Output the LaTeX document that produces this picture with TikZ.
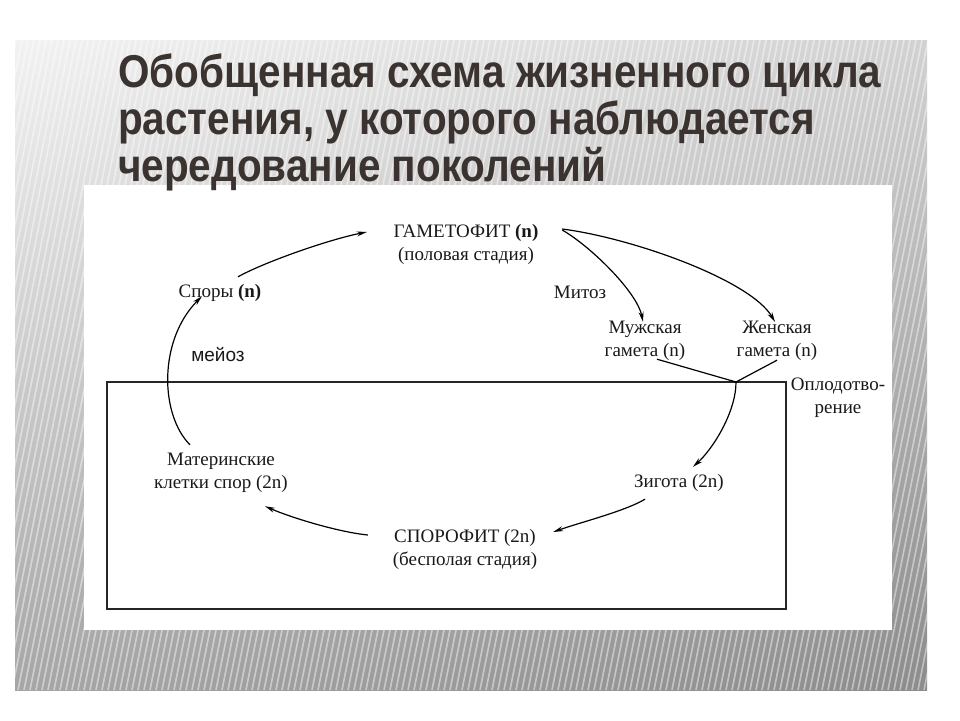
\documentclass[tikz,border=0pt]{standalone}
\usepackage{fontspec}
\setmainfont{Liberation Serif}
\newfontfamily\titlefont[FakeStretch=0.88]{Liberation Sans}
\newfontfamily\labelsans{Liberation Sans}
\usetikzlibrary{arrows.meta,shadings}
\definecolor{titlecol}{HTML}{3B3330}
\tikzset{
  titletext/.style={anchor=base west, inner sep=0pt, text=titlecol,
    font=\titlefont\bfseries\fontsize{46}{50}\selectfont},
  lbl/.style={inner sep=0pt, align=center, text=black!90,
    font=\fontsize{19}{23}\selectfont},
  arr/.style={-{Stealth[length=10pt,width=5pt]}, line width=1.2pt},
  plain/.style={line width=1.2pt},
}
\begin{document}
\begin{tikzpicture}[x=1pt,y=-1pt]
\useasboundingbox (0,0) rectangle (960,720);
\fill[white] (0,0) rectangle (960,720);
% striped slide background
\shade[upper left=black!5, upper right=black!18, lower left=black!35, lower right=black!45]
  (15,40) rectangle (927,690);
\begin{scope}
  \clip (15,40) rectangle (927,690);
  \foreach \i in {-150,-144,...,940}
    \draw[white, opacity=0.45, line width=1.6pt] (\i,690) -- ++(130,-650);
\end{scope}
% white panel
\fill[white] (84,185) rectangle (892,630);
% title
\node[titletext] (t1) at (118,87) {Обобщенная схема жизненного цикла};
\node[titletext] (t2) at (118,134) {растения, у которого наблюдается};
\node[titletext] (t3) at (118,181) {чередование поколений};
% box of the diploid phase
\draw[line width=2pt, black!85] (107,382) rectangle (786,609);
% nodes
\node[lbl, minimum width=150, minimum height=44] (gam) at (466,244)
  {ГАМЕТОФИТ \textbf{(n)}\\(половая стадия)};
\node[lbl, minimum width=86, minimum height=18] (spores) at (220,293) {Споры \textbf{(n)}};
\node[lbl, minimum width=140, minimum height=40] (mat) at (221,473) {Материнские\\клетки спор (2n)};
\node[lbl, minimum width=150, minimum height=44] (spo) at (465,549) {СПОРОФИТ (2n)\\(бесполая стадия)};
\node[lbl, minimum width=94, minimum height=18] (zyg) at (679,483) {Зигота (2n)};
\node[lbl, minimum width=78, minimum height=40] (male) at (645,341) {Мужская\\гамета (n)};
\node[lbl, minimum width=86, minimum height=40] (fem) at (777,341) {Женская\\гамета (n)};
\node[lbl] (mitoz) at (580,292) {Митоз};
\node[lbl, font=\labelsans\fontsize{19}{22}\selectfont] (meioz) at (218,355) {мейоз};
\node[lbl] (fert) at (838,398) {Оплодотво-\\рение};
\coordinate (J) at (736,382);
% connectors
\draw[arr] ([shift={(18,-7)}]spores.north) .. controls +(25,-14) and +(-40,8) .. ([shift={(-24,-12)}]gam.west);
\draw[arr] ([shift={(-31,-8)}]mat.north) .. controls +(-30,-30) and +(-44,44) .. ([shift={(-18,-6)}]spores.south);
\draw[arr] ([shift={(21,-14)}]gam.east) .. controls +(28,16) and +(-6,-30) .. ([shift={(-2,1)}]male.north);
\draw[arr] ([shift={(21,-15)}]gam.east) .. controls +(70,9) and +(-25,-42) .. ([shift={(-2,1)}]fem.north);
\draw[plain] ([shift={(12,-2)}]male.south) -- (J);
\draw[plain] ([shift={(0,-1)}]fem.south) -- (J);
\draw[arr] (J) .. controls +(0,30) and +(20,-18) .. ([shift={(14,-7)}]zyg.north);
\draw[arr] ([shift={(-34,7)}]zyg.south) .. controls +(-20,12) and +(25,-9) .. ([shift={(13,-17)}]spo.east);
\draw[arr] ([shift={(-22,-14)}]spo.west) .. controls +(-30,-3) and +(25,11) .. ([shift={(44,13)}]mat.south);
\end{tikzpicture}
\end{document}
